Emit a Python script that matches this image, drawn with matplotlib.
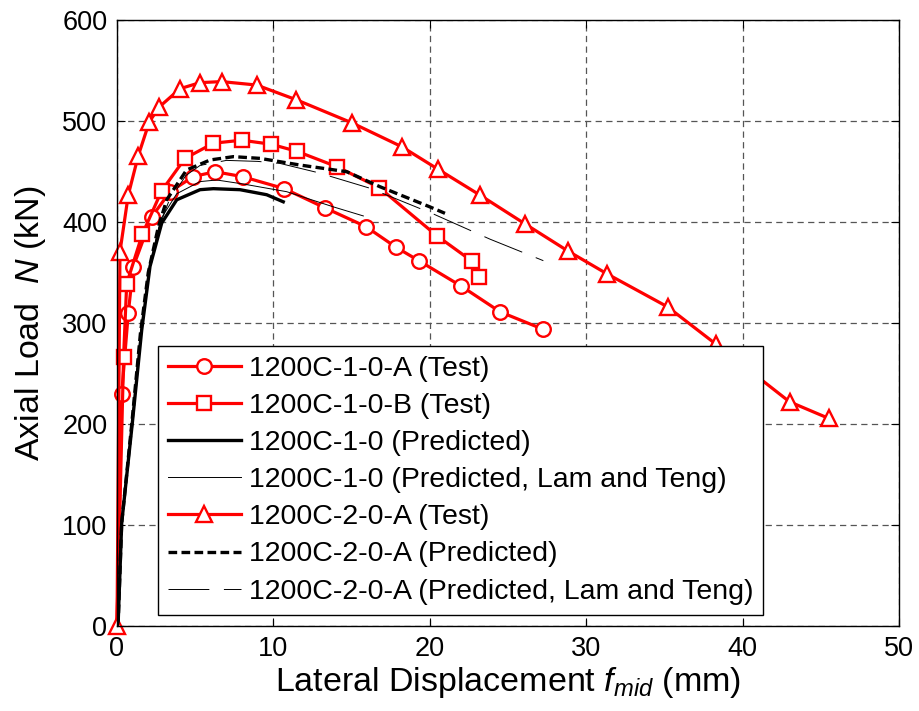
import matplotlib
matplotlib.use("Agg")
import matplotlib.pyplot as plt

plt.rcParams['font.family'] = ['Liberation Sans', 'DejaVu Sans']
plt.rcParams['mathtext.fontset'] = 'custom'
plt.rcParams['mathtext.rm'] = 'Liberation Sans'
plt.rcParams['mathtext.it'] = 'Liberation Sans:italic'

# ---------------- data ----------------
a1_x = [0, 0.3, 0.72, 1.04, 2.22, 3.39, 4.88, 6.27, 8.03, 10.7, 13.3, 15.92, 17.84, 19.33, 22.0, 24.5, 27.26]
a1_y = [0, 230, 309.6, 355.8, 405, 430, 445, 449.8, 444.9, 433, 414, 395.4, 375, 361.4, 336.6, 311, 293.7]

b1_x = [0, 0.42, 0.62, 1.62, 2.86, 4.35, 6.16, 7.97, 9.85, 11.5, 14.05, 16.77, 20.44, 22.68, 23.17]
b1_y = [0, 266, 339, 388, 431, 463, 478, 481, 477, 470, 454.8, 434, 386.5, 361.4, 345.2]

p1_x = [0, 0.08, 0.3, 0.98, 1.58, 2.11, 2.86, 3.82, 5.31, 6.16, 7.86, 9.57, 10.63]
p1_y = [0, 6, 102, 201, 293, 356, 399, 422, 432, 433, 432, 427, 420]

lt1_x = [0, 0.08, 0.3, 0.95, 1.55, 2.1, 2.8, 3.82, 5.31, 6.37, 8.08, 10.85, 13.83, 15.75]
lt1_y = [0, 6, 102, 201, 293, 358, 403, 428, 440, 441.6, 437.6, 430, 415, 406]

a2_x = [0, 0.19, 0.72, 1.36, 2.07, 2.71, 4.03, 5.31, 6.69, 8.93, 11.47, 15.0, 18.2, 20.55, 23.2,
        26.1, 28.86, 31.35, 35.2, 38.3, 43.0, 45.5]
a2_y = [0, 370.6, 426.7, 465.7, 499.3, 514, 532, 538, 539, 535.6, 521, 498.3, 474.6, 452, 426.7,
        398, 371, 348.5, 316, 279, 222, 205.6]

p2_x = [0, 0.08, 0.3, 0.95, 1.5, 2.0, 2.64, 3.18, 4.45, 5.95, 7.44, 9.14, 11.7, 14.69, 16.8, 20.0, 20.97]
p2_y = [0, 6, 102, 201, 290, 350, 395, 422, 451.5, 461.4, 464.7, 463, 456.4, 449.8, 435, 415, 408.6]

lt2_x = [0, 0.08, 0.3, 0.95, 1.5, 2.0, 2.7, 3.3, 4.4, 5.31, 7.0, 9.0, 10.42, 12.87, 16.18, 20.22, 23.85, 27.26]
lt2_y = [0, 6, 102, 201, 290, 350, 395, 420, 446, 456, 461, 460, 458, 448.8, 433.4, 408, 383, 361.7]

labels = ['1200C-1-0-A (Test)', '1200C-1-0-B (Test)', '1200C-1-0 (Predicted)',
          '1200C-1-0 (Predicted, Lam and Teng)', '1200C-2-0-A (Test)',
          '1200C-2-0-A (Predicted)', '1200C-2-0-A (Predicted, Lam and Teng)']

x_ticks = [0, 10, 20, 30, 40, 50]
y_ticks = [0, 100, 200, 300, 400, 500, 600]

# ---------------- figure ----------------
fig = plt.figure(figsize=(9.19, 7.11), dpi=100)
ax = fig.add_axes([117/919, 1 - 626/711, 782/919, 606/711])

red = '#ff0000'
lw_r = 2.3
h1, = ax.plot(a1_x, a1_y, color=red, lw=lw_r, marker='o', ms=10.5, mfc='white', mec=red, mew=1.7,
              markevery=list(range(1, len(a1_x))), clip_on=False)
h2, = ax.plot(b1_x, b1_y, color=red, lw=lw_r, marker='s', ms=9.5, mfc='white', mec=red, mew=1.7,
              markevery=list(range(1, len(b1_x))), clip_on=False)
h5, = ax.plot(a2_x, a2_y, color=red, lw=lw_r, marker='^', ms=12, mfc='white', mec=red, mew=1.7, clip_on=False)
h3, = ax.plot(p1_x, p1_y, color='black', lw=2.4)
h4, = ax.plot(lt1_x, lt1_y, color='black', lw=0.7)
h6, = ax.plot(p2_x, p2_y, color='black', lw=2.4, linestyle=(0, (2.6, 1.3)))
h7, = ax.plot(lt2_x, lt2_y, color='black', lw=0.7, linestyle=(0, (42, 15)))

ax.set_xlim(0, 50)
ax.set_ylim(0, 600)
ax.set_xticks(x_ticks)
ax.set_yticks(y_ticks)
ax.tick_params(direction='in', length=6, width=0.8, labelsize=19.5, top=True, right=True)
ax.tick_params(axis='x', pad=7)
ax.tick_params(axis='y', pad=7)
ax.grid(True, color='#555555', lw=0.9, linestyle=(0, (5, 3.5)))
ax.set_axisbelow(True)
for s in ax.spines.values():
    s.set_linewidth(1.0)

ax.set_xlabel(r'Lateral Displacement $f_{mid}$ (mm)', fontsize=24.5, labelpad=2)
ax.set_ylabel(r'Axial Load  $N$ (kN)', fontsize=24.5, labelpad=10)

leg = ax.legend([h1, h2, h3, h4, h5, h6, h7], labels, loc='upper left',
                bbox_to_anchor=(41/782, 280/606), borderaxespad=0, fontsize=20.5,
                handlelength=2.55, handletextpad=0.28, labelspacing=0.39,
                borderpad=0.35, frameon=True, fancybox=False, framealpha=1,
                edgecolor='black')
leg.get_frame().set_linewidth(1.0)
leg.set_zorder(5)

fig.savefig('out.png', dpi=100)
